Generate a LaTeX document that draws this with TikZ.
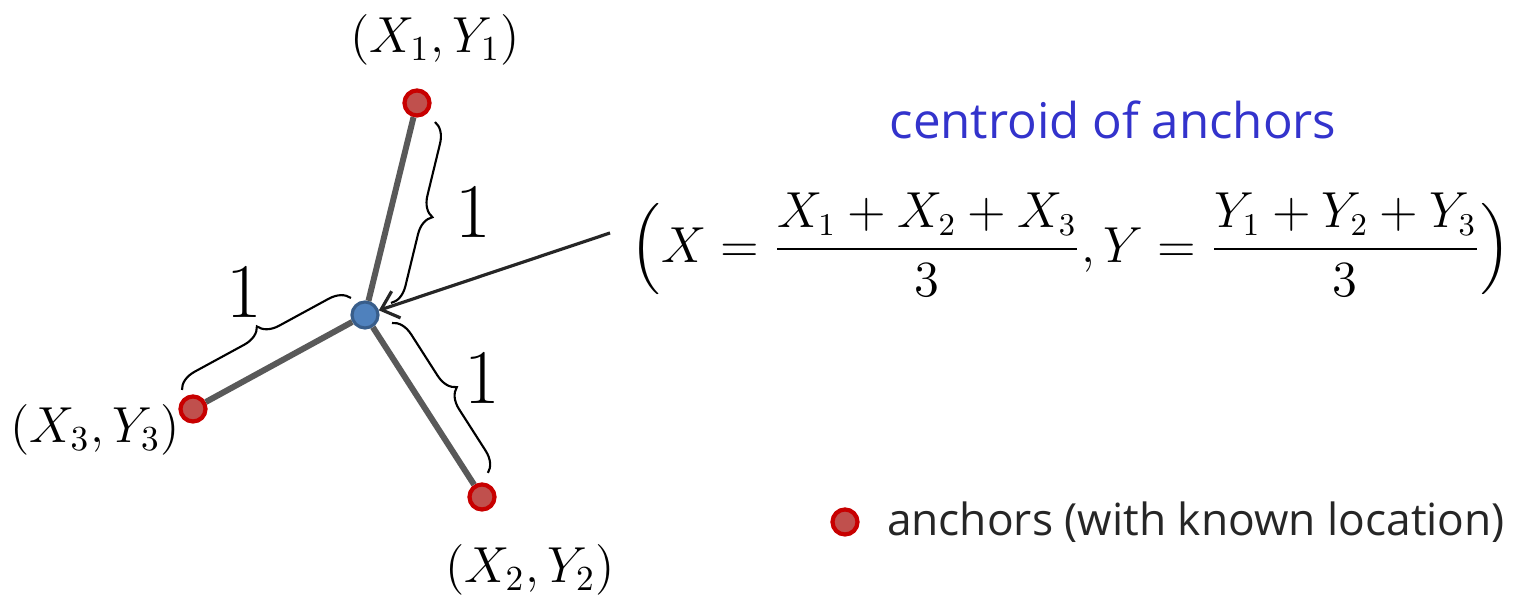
\documentclass[tikz,border=0pt]{standalone}
\usepackage{fontspec}
\usepackage{amsmath}
\usepackage{tikz}
\usetikzlibrary{arrows.meta, positioning, decorations.pathreplacing}
\newfontfamily\uifont{Open Sans}
\definecolor{myred}{RGB}{200,0,0}
\definecolor{myredfill}{RGB}{192,80,77}
\definecolor{myblue}{RGB}{56,93,138}
\definecolor{mybluefill}{RGB}{79,129,189}
\definecolor{mygray}{RGB}{89,89,89}
\definecolor{mytitle}{RGB}{51,51,204}
\definecolor{mydark}{RGB}{38,38,38}
\tikzset{
  anchornode/.style={circle, draw=myred, fill=myredfill,
    minimum size=0.25cm, inner sep=0pt, line width=1.2pt},
  centernode/.style={circle, draw=myblue, fill=mybluefill,
    minimum size=0.26cm, inner sep=0pt, line width=0.9pt},
  spoke/.style={line width=1.7pt, color=mygray},
  bracemark/.style={decorate, decoration={brace, amplitude=0.2cm},
    line width=0.6pt, color=black},
  arrow/.style={-{Straight Barb[length=4.5pt, width=8pt]}, line width=0.9pt, color=black!85},
  onelabel/.style={font=\fontsize{22}{26}\selectfont},
  coordlabel/.style={font=\fontsize{14}{17}\selectfont},
  legendtext/.style={font=\uifont\fontsize{12.6}{15}\selectfont, text=mydark}
}
\begin{document}
\begin{tikzpicture}[x=0.01cm, y=-0.01cm]
  \useasboundingbox (0,0) rectangle (1520,595);

  % Centroid and anchors
  \node[centernode] (ctr) at (365,315) {};
  \node[anchornode] (a1) at (417,103) {};
  \node[anchornode] (a2) at (482,497) {};
  \node[anchornode] (a3) at (193,409) {};

  % Spokes
  \draw[spoke] (ctr) -- (a1);
  \draw[spoke] (ctr) -- (a2);
  \draw[spoke] (ctr) -- (a3);

  % Distance braces
  \coordinate (b1s) at (435,122);
  \coordinate (b1e) at (391,303);
  \coordinate (b2s) at (392,323);
  \coordinate (b2e) at (488,473);
  \coordinate (b3s) at (182,390);
  \coordinate (b3e) at (351,298);
  \draw[bracemark] (b1s) -- (b1e);
  \draw[bracemark] (b2s) -- (b2e);
  \draw[bracemark] (b3s) -- (b3e);
  \node[onelabel] (d1) at (473,212) {1};
  \node[onelabel] (d2) at (482,378) {1};
  \node[onelabel] (d3) at (244,292) {1};

  % Anchor coordinates
  \node[coordlabel] (l1) at (435,40) {$(X_1,Y_1)$};
  \node[coordlabel] (l2) at (530,570) {$(X_2,Y_2)$};
  \node[coordlabel] (l3) at (95,430) {$(X_3,Y_3)$};

  % Formula and pointer
  \node[font=\uifont\fontsize{14}{17}\selectfont, text=mytitle] (title) at (1113,120) {centroid of anchors};
  \node[font=\fontsize{13.5}{16}\selectfont] (formula) at (1071,245)
    {$\displaystyle\Big(X=\frac{X_1+X_2+X_3}{3},Y=\frac{Y_1+Y_2+Y_3}{3}\Big)$};
  \coordinate (ptr) at (610,233);
  \draw[arrow] (ptr) -- (ctr);

  % Legend
  \node[anchornode] (legdot) at (845,522) {};
  \node[legendtext, right=0.15cm of legdot] (legtxt) {anchors (with known location)};
\end{tikzpicture}
\end{document}
